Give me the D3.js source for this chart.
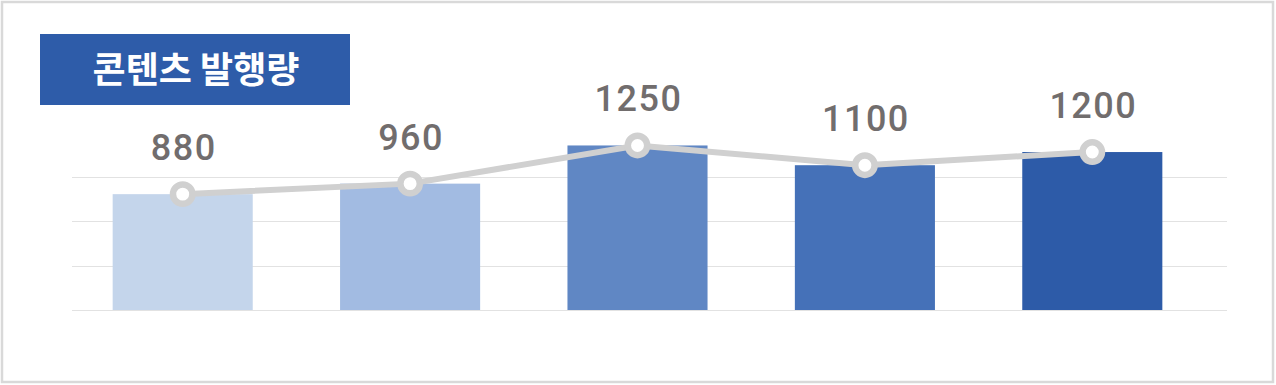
<!DOCTYPE html>
<html>
<head>
<meta charset="utf-8">
<script src="https://cdn.jsdelivr.net/npm/d3@7"></script>
<style>
  body { margin: 0; background: #fff; }
  svg { display: block; font-family: "Noto Sans CJK KR", Roboto, sans-serif; }
</style>
</head>
<body>
<svg id="chart" width="1276" height="385"></svg>
<script>
const categories = ["A", "B", "C", "D", "E"];
const values = [880, 960, 1250, 1100, 1200];
const barColors = ["#C4D5EB", "#A2BBE2", "#6087C4", "#4571B8", "#2D5BA8"];
const gridValues = [0, 337.5, 675, 1012.5];
const title = "콘텐츠 발행량";

const svg = d3.select("#chart");

// outer frame
svg.append("rect")
    .attr("x", 2).attr("y", 2)
    .attr("width", 1271).attr("height", 380)
    .attr("fill", "#fff")
    .attr("stroke", "#d9d9d9")
    .attr("stroke-width", 2.5);

const x = d3.scaleBand()
    .domain(categories)
    .range([69, 1206])
    .paddingInner(0.384)
    .paddingOuter(0.192);

const y = d3.scaleLinear()
    .domain([0, 1350])
    .range([310, 132.3]);

// gridlines
svg.append("g")
    .selectAll("line")
    .data(gridValues)
    .enter()
    .append("line")
    .attr("x1", 72).attr("x2", 1227)
    .attr("y1", d => Math.round(y(d)) + 0.5)
    .attr("y2", d => Math.round(y(d)) + 0.5)
    .attr("stroke", "#e2e2e2")
    .attr("stroke-width", 1);

// bars
svg.append("g")
    .selectAll("rect")
    .data(values)
    .enter()
    .append("rect")
    .attr("x", (d, i) => x(categories[i]))
    .attr("y", d => y(d))
    .attr("width", x.bandwidth())
    .attr("height", d => y(0) - y(d))
    .attr("fill", (d, i) => barColors[i]);

const cx = i => x(categories[i]) + x.bandwidth() / 2;

// line
const line = d3.line()
    .x((d, i) => cx(i))
    .y(d => y(d));

svg.append("path")
    .datum(values)
    .attr("d", line)
    .attr("fill", "none")
    .attr("stroke", "#d0d0d0")
    .attr("stroke-width", 6);

svg.append("g")
    .selectAll("circle")
    .data(values)
    .enter()
    .append("circle")
    .attr("cx", (d, i) => cx(i))
    .attr("cy", d => y(d))
    .attr("r", 9.7)
    .attr("fill", "#fff")
    .attr("stroke", "#d0d0d0")
    .attr("stroke-width", 6.5);

// value labels
svg.append("g")
    .selectAll("text")
    .data(values)
    .enter()
    .append("text")
    .attr("x", (d, i) => cx(i) + 1)
    .attr("y", d => y(d) - 34)
    .attr("text-anchor", "middle")
    .attr("font-family", "Roboto, 'Noto Sans', sans-serif")
    .attr("font-size", 36)
    .attr("font-weight", 500)
    .attr("letter-spacing", 1.5)
    .attr("fill", "#716d6d")
    .text(d => d);

// title box
svg.append("rect")
    .attr("x", 40).attr("y", 34)
    .attr("width", 310).attr("height", 71)
    .attr("fill", "#2E5CA9");

svg.append("text")
    .attr("x", 196).attr("y", 70)
    .attr("dy", "0.35em")
    .attr("text-anchor", "middle")
    .attr("font-size", 36)
    .attr("font-weight", "bold")
    .attr("fill", "#fff")
    .text(title);
</script>
</body>
</html>
